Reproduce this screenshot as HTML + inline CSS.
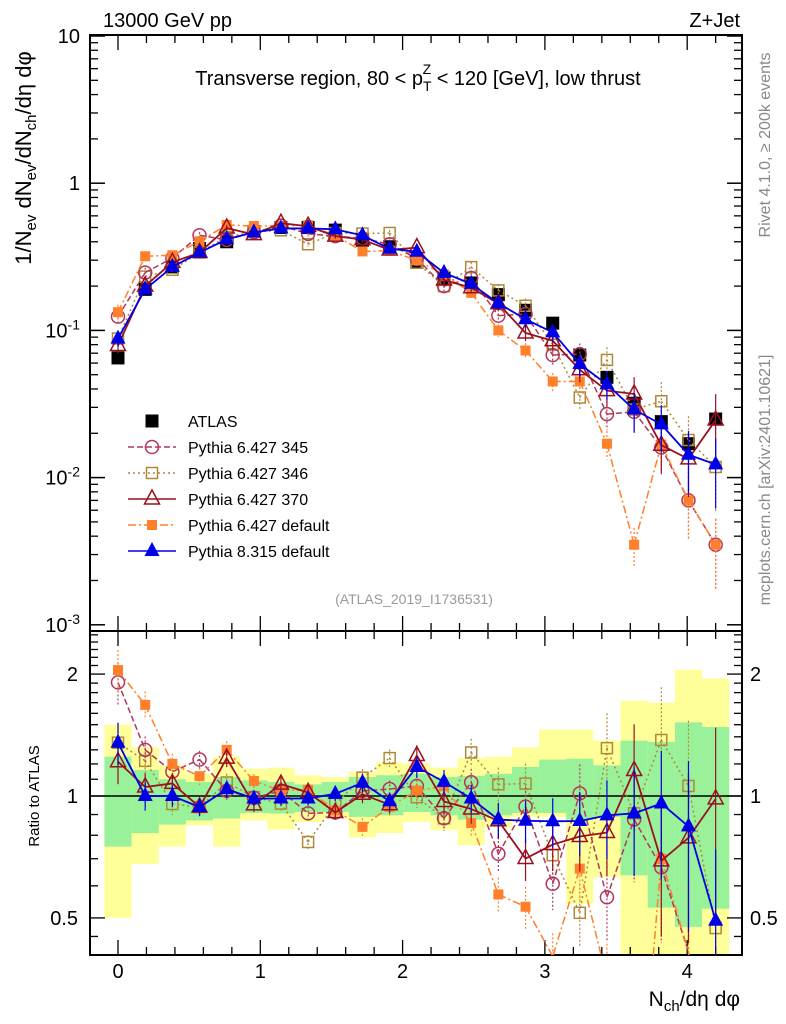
<!DOCTYPE html>
<html><head><meta charset="utf-8"><style>
html,body{margin:0;padding:0;background:#fff;width:786px;height:1024px;overflow:hidden;}
svg{display:block;font-family:"Liberation Sans",sans-serif;overflow:hidden;}
</style></head><body>
<svg id="chart" width="786" height="1024" viewBox="0 0 786 1024" xmlns="http://www.w3.org/2000/svg">
<g id="bands"></g>
<g id="axes"></g>
<g id="series"></g>
<text x="103" y="27" font-size="20">13000 GeV pp</text>
<text x="740" y="27" font-size="20" text-anchor="end">Z+Jet</text>
<text x="418" y="85" font-size="20" text-anchor="middle">Transverse region, 80 &lt; p<tspan font-size="14" dy="6">T</tspan><tspan font-size="14" dx="-9" dy="-17">Z</tspan><tspan dy="11"> &lt; 120 [GeV], low thrust</tspan></text>
<text x="414" y="604" font-size="14" fill="#999" text-anchor="middle">(ATLAS_2019_I1736531)</text>
<text transform="translate(770,145) rotate(-90)" font-size="16" fill="#888" text-anchor="middle">Rivet 4.1.0, ≥ 200k events</text>
<text transform="translate(770,480) rotate(-90)" font-size="16" fill="#888" text-anchor="middle">mcplots.cern.ch [arXiv:2401.10621]</text>
<text transform="translate(31,158) rotate(-90)" font-size="22" text-anchor="middle">1/N<tspan font-size="15" dy="5">ev</tspan><tspan dy="-5"> dN</tspan><tspan font-size="15" dy="5">ev</tspan><tspan dy="-5">/dN</tspan><tspan font-size="15" dy="5">ch</tspan><tspan dy="-5">/dη dφ</tspan></text>
<text transform="translate(39,796) rotate(-90)" font-size="15" text-anchor="middle">Ratio to ATLAS</text>
<text x="740" y="1006" font-size="21" text-anchor="end">N<tspan font-size="15" dy="5">ch</tspan><tspan dy="-5">/dη dφ</tspan></text>
<g id="legend"></g>
</svg>
<script>
// ---- data ----
const xVals = [0,0.191,0.382,0.573,0.764,0.955,1.145,1.336,1.527,1.718,1.909,2.1,2.291,2.482,2.673,2.864,3.055,3.245,3.436,3.627,3.818,4.009,4.2];
const atlas = [0.065,0.19,0.27,0.36,0.40,0.47,0.50,0.50,0.48,0.41,0.37,0.29,0.227,0.21,0.175,0.137,0.112,0.068,0.048,0.032,0.024,0.017,0.025];
const py6_345 = [0.124,0.247,0.31,0.443,0.412,0.465,0.515,0.453,0.437,0.422,0.385,0.307,0.20,0.227,0.126,0.129,0.068,0.069,0.027,0.028,0.016,0.0070,0.0035];
const py6_346 = [0.088,0.232,0.258,0.338,0.432,0.467,0.479,0.385,0.459,0.455,0.459,0.288,0.20,0.269,0.187,0.147,0.080,0.035,0.063,0.029,0.033,0.018,0.0118];
const py6_370 = [0.079,0.20,0.29,0.338,0.496,0.447,0.535,0.51,0.437,0.414,0.352,0.365,0.22,0.195,0.152,0.096,0.085,0.054,0.039,0.037,0.0166,0.0134,0.0246];
const py6_def = [0.133,0.319,0.324,0.403,0.52,0.512,0.515,0.518,0.442,0.344,0.348,0.299,0.24,0.18,0.10,0.073,0.045,0.045,0.017,0.0035,0.0168,0.0070,0.0035];
const py8_def = [0.088,0.19,0.27,0.338,0.416,0.463,0.493,0.493,0.486,0.442,0.359,0.342,0.246,0.207,0.153,0.119,0.097,0.059,0.043,0.029,0.023,0.0143,0.0123];
const relErr = [0.12,0.08,0.06,0.05,0.05,0.04,0.04,0.04,0.04,0.05,0.05,0.06,0.07,0.08,0.1,0.12,0.14,0.18,0.22,0.3,0.35,0.45,0.5];
const yellowHi = [1.50,1.32,1.19,1.135,1.25,1.168,1.175,1.125,1.114,1.146,1.213,1.20,1.175,1.24,1.25,1.32,1.46,1.46,1.37,1.72,1.70,2.05,1.95];
const yellowLo = [0.50,0.68,0.75,0.846,0.75,0.87,0.826,0.863,0.88,0.79,0.81,0.863,0.823,0.756,0.838,0.888,0.888,0.542,0.63,0.4,0.4,0.4,0.4];
const greenHi = [1.25,1.16,1.10,1.083,1.114,1.093,1.083,1.068,1.083,1.114,1.125,1.135,1.114,1.12,1.135,1.18,1.23,1.236,1.19,1.37,1.36,1.52,1.48];
const greenLo = [0.75,0.81,0.85,0.87,0.88,0.908,0.905,0.913,0.913,0.888,0.896,0.913,0.896,0.874,0.896,0.908,0.908,0.874,0.888,0.637,0.53,0.475,0.527];
const mainTicks = ["10","1","10^-1","10^-2","10^-3"];
const ratioTicks = [2,1,0.5];
const xTickLabels = [0,1,2,3,4];

// ---- geometry ----
const L=90,R=742,T=35,MB=631,RB=955;
const NS="http://www.w3.org/2000/svg";
const xs = v => 118 + v*142.3;
const ys = v => 36 + (1 - Math.log10(v))*147.2;
const yr = r => 796 - Math.log10(r)*405;
const clampR = y => Math.max(MB, Math.min(RB, y));
function mk(tag, attrs, parent){const e=document.createElementNS(NS,tag);for(const k in attrs)e.setAttribute(k,attrs[k]);parent.appendChild(e);return e;}
const axes=document.getElementById('axes'), bands=document.getElementById('bands'), ser=document.getElementById('series'), leg=document.getElementById('legend');

const half=0.0955;
for(let i=0;i<xVals.length;i++){
  const x0=xs(xVals[i]-half), x1=xs(xVals[i]+half);
  const y1=mk('rect',{x:x0,y:clampR(yr(yellowHi[i])),width:x1-x0,height:clampR(yr(yellowLo[i]))-clampR(yr(yellowHi[i])),fill:'#ffff99'},bands);
  
  
}
for(let i=0;i<xVals.length;i++){
  const x0=xs(xVals[i]-half), x1=xs(xVals[i]+half);
  const g=mk('rect',{x:x0,y:clampR(yr(greenHi[i])),width:x1-x0,height:clampR(yr(greenLo[i]))-clampR(yr(greenHi[i])),fill:'#99f299'},bands);
  
  
}

mk('rect',{x:L,y:T,width:R-L,height:MB-T,fill:'none',stroke:'#000','stroke-width':2},axes);
mk('rect',{x:L,y:MB,width:R-L,height:RB-MB,fill:'none',stroke:'#000','stroke-width':2},axes);
mk('line',{x1:L,x2:R,y1:yr(1),y2:yr(1),stroke:'#000','stroke-width':1.5},axes);

for(let d=1; d>=-3; d--){
  const y=ys(Math.pow(10,d));
  mk('line',{x1:L,x2:L+15,y1:y,y2:y,stroke:'#000','stroke-width':1.5},axes);
  mk('line',{x1:R,x2:R-15,y1:y,y2:y,stroke:'#000','stroke-width':1.5},axes);
  if(d>-3){for(let m=2;m<=9;m++){const yy=ys(m*Math.pow(10,d-1));if(yy>MB)continue;
    mk('line',{x1:L,x2:L+8,y1:yy,y2:yy,stroke:'#000','stroke-width':1.3},axes);
    mk('line',{x1:R,x2:R-8,y1:yy,y2:yy,stroke:'#000','stroke-width':1.3},axes);}}
  const lab=mainTicks[1-d];
  const t=mk('text',{x:80,y:y+7,'font-size':20,'text-anchor':'end'},axes);
  
  
  if(lab.indexOf('^')>=0){const p=lab.split('^');t.textContent=p[0];const s=mk('tspan',{'font-size':14,dy:-8},t);s.textContent=p[1];}
  else t.textContent=lab;
}
for(const r of [0.5,0.6,0.7,0.8,0.9,1,1.1,1.2,1.3,1.4,1.5,1.6,1.7,1.8,1.9,2,2.1,2.2,2.3,2.4,2.5,0.45]){
  const y=yr(r); if(y<MB||y>RB) continue;
  const major = ratioTicks.indexOf(r)>=0;
  const len = major?15:8;
  mk('line',{x1:L,x2:L+len,y1:y,y2:y,stroke:'#000','stroke-width':1.3},axes);
  mk('line',{x1:R,x2:R-len,y1:y,y2:y,stroke:'#000','stroke-width':1.3},axes);
}
for(const r of ratioTicks){
  const y=yr(r);
  const a=mk('text',{x:78,y:y+7,'font-size':20,'text-anchor':'end'},axes); a.textContent=r;
  
  
  const b=mk('text',{x:750,y:y+7,'font-size':20},axes); b.textContent=r;
  
  
}
for(let k=-1;k<=22;k++){
  const v=k*0.2, x=xs(v); if(x<L||x>R) continue;
  const major=(k%5===0); const len=major?15:8;
  mk('line',{x1:x,x2:x,y1:MB,y2:MB-len,stroke:'#000','stroke-width':1.3},axes);
  mk('line',{x1:x,x2:x,y1:RB,y2:RB-len,stroke:'#000','stroke-width':1.3},axes);
  mk('line',{x1:x,x2:x,y1:T,y2:T+len,stroke:'#000','stroke-width':1.3},axes);
  mk('line',{x1:x,x2:x,y1:MB,y2:MB+len,stroke:'#000','stroke-width':1.3},axes);
}
for(const v of xTickLabels){
  const t=mk('text',{x:xs(v),y:978,'font-size':20,'text-anchor':'middle'},axes); t.textContent=v;
  
  
}

function marker(g,type,x,y,c){
  const s=6.5;
  if(type==='fsq') mk('rect',{x:x-s,y:y-s,width:2*s,height:2*s,fill:c},g);
  else if(type==='osq') mk('rect',{x:x-s+1,y:y-s+1,width:2*s-2,height:2*s-2,fill:'none',stroke:c,'stroke-width':1.5},g);
  else if(type==='ocirc') mk('circle',{cx:x,cy:y,r:6.5,fill:'none',stroke:c,'stroke-width':1.5},g);
  else if(type==='osmsq') mk('rect',{x:x-5,y:y-5,width:10,height:10,fill:c},g);
  else if(type==='otri') mk('polygon',{points:`${x},${y-9} ${x-7.5},${y+5} ${x+7.5},${y+5}`,fill:'none',stroke:c,'stroke-width':1.5},g);
  else if(type==='ftri') mk('polygon',{points:`${x},${y-9} ${x-7.5},${y+5} ${x+7.5},${y+5}`,fill:c},g);
}
const seriesDefs=[
  {name:'pythia-6-427-346',label:'Pythia 6.427 346',data:py6_346,c:'#b0883a',m:'osq',dash:'2,3'},
  {name:'pythia-6-427-345',label:'Pythia 6.427 345',data:py6_345,c:'#b3365b',m:'ocirc',dash:'6,3'},
  {name:'pythia-6-427-default',label:'Pythia 6.427 default',data:py6_def,c:'#ff7f2a',m:'osmsq',dash:'8,3,2,3'},
  {name:'pythia-6-427-370',label:'Pythia 6.427 370',data:py6_370,c:'#9b1020',m:'otri',dash:''},
  {name:'pythia-8-315-default',label:'Pythia 8.315 default',data:py8_def,c:'#0000e6',m:'ftri',dash:''}
];
// clip a segment to [ymin,ymax]; returns null or [x1,y1,x2,y2]
function clipSeg(x1,y1,x2,y2,ymin,ymax){
  if((y1<ymin&&y2<ymin)||(y1>ymax&&y2>ymax)) return null;
  const f=(yt)=>x1+(x2-x1)*(yt-y1)/(y2-y1);
  if(y1<ymin){x1=f(ymin);y1=ymin;} else if(y1>ymax){x1=f(ymax);y1=ymax;}
  if(y2<ymin){x2=x1+(x2-x1)*(ymin-y1)/(y2-y1);y2=ymin;} else if(y2>ymax){x2=x1+(x2-x1)*(ymax-y1)/(y2-y1);y2=ymax;}
  return [x1,y1,x2,y2];
}
function drawLines(g,pts,ymin,ymax,def,sw){
  for(let i=0;i<pts.length-1;i++){
    const s=clipSeg(pts[i][0],pts[i][1],pts[i+1][0],pts[i+1][1],ymin,ymax);
    if(!s) continue;
    mk('line',{x1:s[0],y1:s[1],x2:s[2],y2:s[3],stroke:def.c,'stroke-width':sw,'stroke-dasharray':def.dash},g);
  }
}
function drawSeries(def){
  const g=mk('g',{},ser);
  
  
  const pm=[],pr=[];
  def.data.forEach((v,i)=>{const x=xs(xVals[i]);pm.push([x,ys(v)]);pr.push([x,yr(v/atlas[i])]);});
  const sw=def.dash?1.5:1.8;
  drawLines(g,pm,T,MB,def,sw);
  drawLines(g,pr,MB,RB,def,sw);
  def.data.forEach((v,i)=>{
    const x=xs(xVals[i]), e=relErr[i];
    const ym=ys(v), r=v/atlas[i];
    mk('line',{x1:x,x2:x,y1:Math.min(MB,ys(v*(1+e))),y2:Math.min(MB,ys(Math.max(v*(1-e),1e-5))),stroke:def.c,'stroke-width':1.2,'stroke-dasharray':def.dash?'2,2':''},g);
    mk('line',{x1:x,x2:x,y1:clampR(yr(r*(1+e))),y2:clampR(yr(Math.max(r*(1-e),0.01))),stroke:def.c,'stroke-width':1.2,'stroke-dasharray':def.dash?'2,2':''},g);
    if(ym<MB-3) marker(g,def.m,x,ym,def.c);
    const yy=yr(r); if(yy>MB+3&&yy<RB-3) marker(g,def.m,x,yy,def.c);
  });
}
const ga=mk('g',{},ser);


atlas.forEach((v,i)=>marker(ga,'fsq',xs(xVals[i]),ys(v),'#000'));
seriesDefs.forEach(drawSeries);

const order=['ATLAS','Pythia 6.427 345','Pythia 6.427 346','Pythia 6.427 370','Pythia 6.427 default','Pythia 8.315 default'];
order.forEach((lab,k)=>{
  const y=421+k*26;
  const g=mk('g',{},leg);
  
  
  if(lab==='ATLAS') marker(g,'fsq',152,y,'#000');
  else{const d=seriesDefs.find(s=>s.label===lab);
    mk('line',{x1:128,x2:176,y1:y,y2:y,stroke:d.c,'stroke-width':1.5,'stroke-dasharray':d.dash},g);
    marker(g,d.m,152,y,d.c);}
  const t=mk('text',{x:188,y:y+6,'font-size':16},g); t.textContent=lab;
});
</script>
</body></html>
